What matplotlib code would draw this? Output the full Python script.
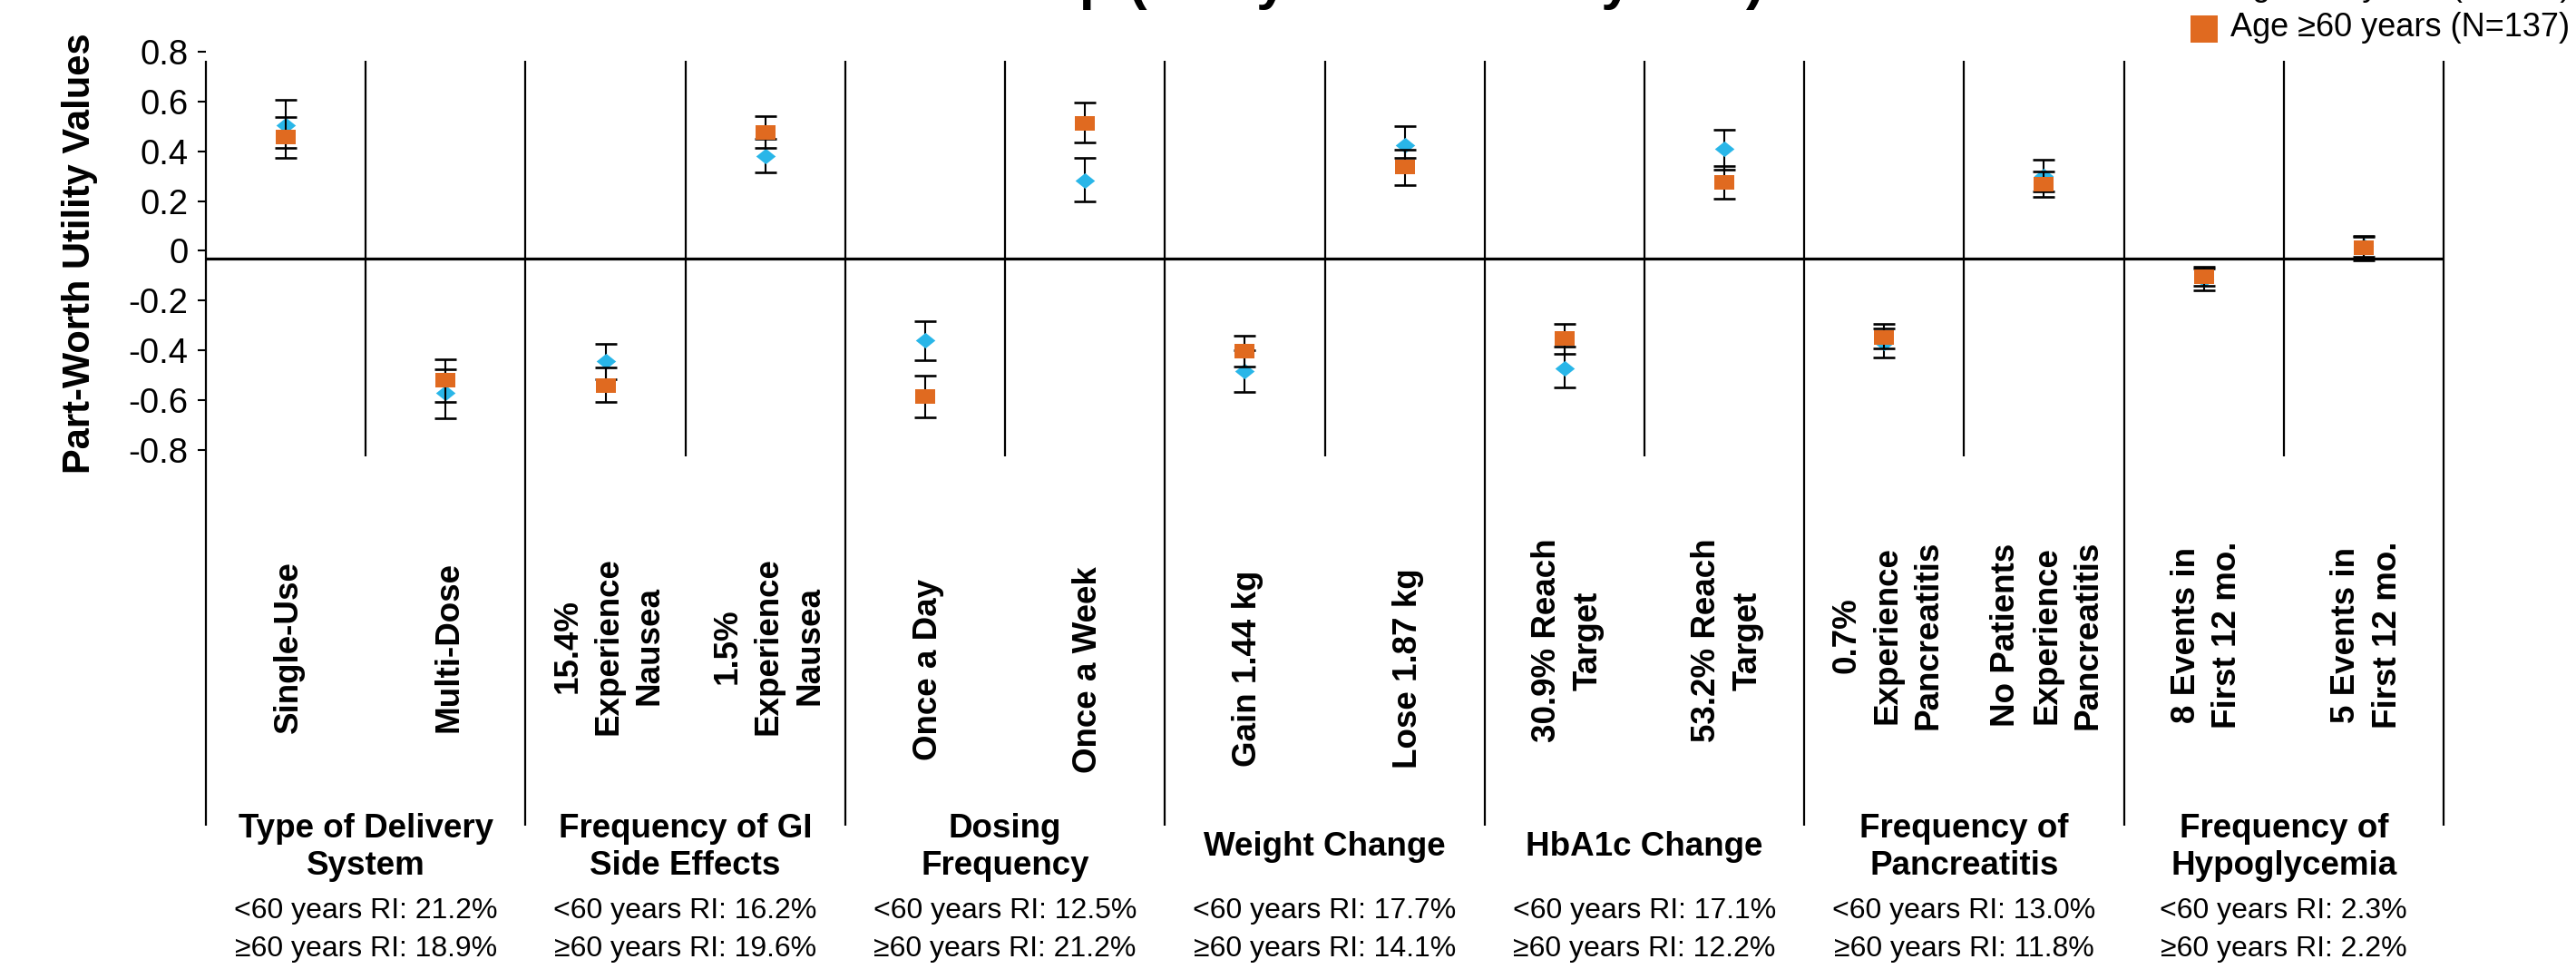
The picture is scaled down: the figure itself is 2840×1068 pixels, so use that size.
import matplotlib
matplotlib.use("Agg")
import matplotlib.pyplot as plt
from matplotlib.lines import Line2D
import numpy as np

plt.rcParams['font.family'] = ['Liberation Sans', 'DejaVu Sans']

# ---------------- data ----------------
levels = ["Single-Use", "Multi-Dose",
          "15.4%\nExperience\nNausea", "1.5%\nExperience\nNausea",
          "Once a Day", "Once a Week",
          "Gain 1.44 kg", "Lose 1.87 kg",
          "30.9% Reach\nTarget", "53.2% Reach\nTarget",
          "0.7%\nExperience\nPancreatitis", "No Patients\nExperience\nPancreatitis",
          "8 Events in\nFirst 12 mo.", "5 Events in\nFirst 12 mo."]

attributes = ["Type of Delivery\nSystem", "Frequency of GI\nSide Effects", "Dosing\nFrequency",
              "Weight Change", "HbA1c Change", "Frequency of\nPancreatitis",
              "Frequency of\nHypoglycemia"]
ri_under60 = [21.2, 16.2, 12.5, 17.7, 17.1, 13.0, 2.3]
ri_over60 = [18.9, 19.6, 21.2, 14.1, 12.2, 11.8, 2.2]

# part-worth utilities and 95% CI bounds, age <60 years
pw_under60 = [0.505, -0.572, -0.444, 0.382, -0.359, 0.281, -0.484, 0.426, -0.472, 0.410, -0.370, 0.301, -0.115, 0.020]
lo_under60 = [0.414, -0.672, -0.516, 0.315, -0.440, 0.200, -0.567, 0.375, -0.547, 0.327, -0.429, 0.240, -0.157, -0.025]
hi_under60 = [0.608, -0.476, -0.372, 0.450, -0.282, 0.375, -0.400, 0.502, -0.385, 0.488, -0.313, 0.367, -0.070, 0.060]
# age >=60 years
pw_over60 = [0.457, -0.520, -0.540, 0.474, -0.584, 0.512, -0.402, 0.336, -0.353, 0.275, -0.347, 0.267, -0.105, 0.013]
lo_over60 = [0.375, -0.605, -0.606, 0.414, -0.667, 0.435, -0.464, 0.265, -0.413, 0.210, -0.390, 0.218, -0.142, -0.038]
hi_over60 = [0.539, -0.436, -0.470, 0.543, -0.500, 0.596, -0.342, 0.405, -0.293, 0.342, -0.293, 0.320, -0.063, 0.056]

series_labels = ["Age <60 years (N=263)", "Age \u226560 years (N=137)"]
yticks = [0.8, 0.6, 0.4, 0.2, 0.0, -0.2, -0.4, -0.6, -0.8]
ytick_labels = ["0.8", "0.6", "0.4", "0.2", "0", "-0.2", "-0.4", "-0.6", "-0.8"]
ylabel = "Part-Worth Utility Values"
title = "Utilities in Each Patient Group (<60 years vs \u226560 years)"

# ---------------- layout / style ----------------
W, H = 2840, 1068
BLUE = "#29B6E8"
ORANGE = "#E06A20"
ZERO_PX, PX_PER_UNIT = 276.5, 274.4


def val(py):
    return (ZERO_PX - py) / PX_PER_UNIT


def fy(py):
    return 1 - py / H


fig = plt.figure(figsize=(W / 100, H / 100), dpi=100)
ax = fig.add_axes([227 / W, 0, 2467 / W, 1])
n = len(levels)
x = np.arange(n)
ax.set_xlim(-0.5, n - 0.5)
ax.set_ylim(val(H), val(0))
for s in ax.spines.values():
    s.set_visible(False)
ax.set_xticks([])
ax.set_yticks(yticks, ytick_labels)
ax.tick_params(axis='y', direction='out', length=6.5, width=1.5, pad=7.5,
               labelsize=27.5, color='black')

# grid structure
top = val(67)
short_bottom = val(503)
long_bottom = val(910)
ax.vlines(np.arange(-0.5, n, 2), long_bottom, top, color='black', lw=1.6, clip_on=False)
ax.vlines(np.arange(0.5, n, 2), short_bottom, top, color='black', lw=1.6, clip_on=False)
ax.hlines(val(285), -0.5, n - 0.5, color='black', lw=2.3, zorder=2)

# markers
rect = [(-1, -0.75), (1, -0.75), (1, 0.75), (-1, 0.75)]
diamond = [(0, 0.8), (1, 0), (0, -0.8), (-1, 0)]

series = [
    (pw_under60, lo_under60, hi_under60, BLUE, diamond, 15.5, 3),
    (pw_over60, lo_over60, hi_over60, ORANGE, rect, 16, 4),
]
for pw, lo, hi, col, mk, ms, z in series:
    pw = np.array(pw); lo = np.array(lo); hi = np.array(hi)
    ax.errorbar(x, pw, yerr=[pw - lo, hi - pw], fmt='none',
                ecolor='black', elinewidth=1.5, capsize=8.8, capthick=1.9, zorder=z)
    ax.plot(x, pw, linestyle='none', marker=mk, markersize=ms,
            markerfacecolor=col, markeredgewidth=0, zorder=z + 0.1)

# level labels (rotated)
label_py = [713, 712, 738, 737, 706, 700, 700]
for i, lab in enumerate(levels):
    ax.text(i + 0.02, val(label_py[i // 2]), lab, rotation=90, ha='center', va='center',
            multialignment='center', fontsize=26.5, fontweight='bold', linespacing=1.38)

# attribute titles + relative importance
for g, att in enumerate(attributes):
    cx = 2 * g + 0.5
    ax.text(cx, val(934), att, ha='center', va='center', multialignment='center',
            fontsize=26.5, fontweight='bold', linespacing=1.25, clip_on=False)
    ri = f"<60 years RI: {ri_under60[g]:.1f}%\n\u226560 years RI: {ri_over60[g]:.1f}%"
    ax.text(cx, val(1025), ri, ha='center', va='center', multialignment='center',
            fontsize=23, linespacing=1.5, clip_on=False)

# y label and title
fig.text(88 / W, fy(279), ylabel, rotation=90, ha='center', va='center',
         fontsize=30, fontweight='bold')
fig.text(1945 / W, 1 + 2.4 / H, title, ha='right', va='baseline',
         fontsize=44, fontweight='bold')

# legend (top right, partially outside the canvas)
legend_rows = [(BLUE, diamond, -13), (ORANGE, 's', 32)]
for (col, mk, py), lab in zip(legend_rows, series_labels):
    fig.add_artist(Line2D([2430 / W], [fy(py)], marker=mk, markersize=21, linestyle='none',
                          markerfacecolor=col, markeredgewidth=0, transform=fig.transFigure))
    fig.text(2459 / W, fy(py + 8), lab, ha='left', va='baseline', fontsize=26)

fig.savefig("out.png", dpi=100)
